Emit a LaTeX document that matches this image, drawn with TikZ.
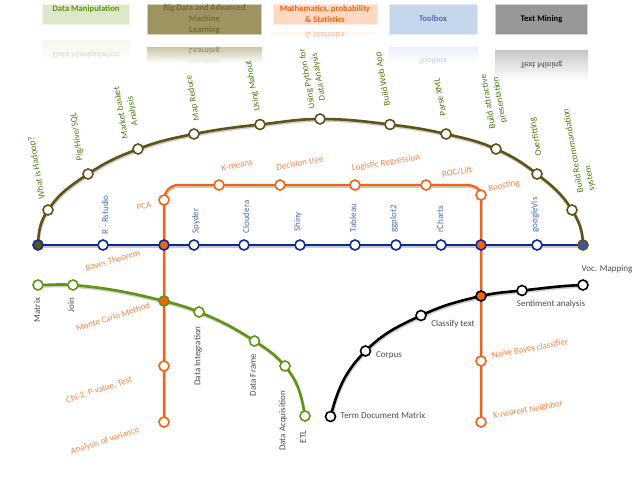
\documentclass[tikz,border=0pt]{standalone}
\usepackage{fontspec}
\setmainfont{Carlito}
\usetikzlibrary{backgrounds}
\definecolor{brownline}{HTML}{5F5216}
\definecolor{blueline}{HTML}{0A2A96}
\definecolor{orangeline}{HTML}{F36412}
\definecolor{greenline}{HTML}{5F9410}
\definecolor{oliveText}{HTML}{4F7A14}
\definecolor{blueText}{HTML}{4A6FB0}
\definecolor{orangeText}{HTML}{F58548}
\definecolor{greyText}{HTML}{4A4A4A}
\definecolor{hgreen}{HTML}{DDE8CB}
\definecolor{hbrown}{HTML}{9E9462}
\definecolor{horange}{HTML}{FDD8C2}
\definecolor{hblue}{HTML}{C6D6EC}
\definecolor{hgrey}{HTML}{989898}
\tikzset{
 every node/.style={inner sep=0pt,outer sep=0pt},
 stn/.style={circle,minimum size=10pt,line width=1.6pt,fill=white,draw=#1},
 junction/.style 2 args={circle,minimum size=10pt,line width=1.6pt,fill=#2,draw=#1},
 lab/.style={font=\fontsize{9}{11.5}\selectfont,align=center},
 olab/.style={lab,text=oliveText,rotate=100},
 blab/.style={lab,text=blueText,rotate=90},
 rlab/.style={lab,text=orangeText},
 glab/.style={lab,text=greyText,rotate=90},
 klab/.style={lab,text=greyText},
 headtxt/.style={font=\bfseries\fontsize{8.6}{11}\selectfont,align=center},
 shadowln/.style={draw=black!45,opacity=.45,line width=2.6pt,transform canvas={shift={(0.6pt,-1.5pt)}}},
 brownln/.style={draw=brownline,line width=2.6pt},
 blueln/.style={draw=blueline,line width=2pt},
 orangeln/.style={draw=orangeline,line width=2.2pt},
 greenln/.style={draw=greenline,line width=2.6pt},
 blackln/.style={draw=black,line width=2.6pt},
 hbox/.style={draw=#1!45!white,line width=1pt,fill=#1},
}
\newcommand\pathBrown{(bs.center)
 to[out=88,in=236] (b1.center) to[out=56,in=214] (b2.center)
 to[out=34,in=201] (b3.center) to[out=21,in=191] (b4.center)
 to[out=11,in=186] (b5.center) to[out=6,in=180] (b6.center)
 to[out=0,in=173] (b7.center) to[out=-7,in=167] (b8.center)
 to[out=-13,in=156] (b9.center) to[out=-24,in=142] (b10.center)
 to[out=-38,in=122] (b11.center) to[out=-58,in=92] (be.center)}
\newcommand\pathGreen{(g1.center)
 to[out=0,in=175] (g2.center) to[out=-5,in=166] (xg.center)
 to[out=-14,in=158] (g3.center) to[out=-22,in=147] (g4.center)
 to[out=-33,in=130] (g5.center) to[out=-50,in=100] (g6.center)}
\newcommand\pathBlack{(k1.center)
 to[out=75,in=225] (k2.center) to[out=45,in=205] (k3.center)
 to[out=25,in=193] (xk.center) to[out=13,in=186] (k4.center)
 to[out=6,in=182] (k5.center)}
\newcommand\pathOrange{(ol2.center) -- (pca.center) to[out=90,in=180] (cl) -- (cr) to[out=0,in=90] (boost.center) -- (or2.center)}
\begin{document}
\begin{tikzpicture}[x=1pt,y=-1pt]
\useasboundingbox (0,0) rectangle (640,480);
\begin{scope}[on background layer]
\fill[white] (0,0) rectangle (640,480);
\end{scope}

% header boxes
\node[hbox=hgreen,minimum width=87pt,minimum height=20pt] (h1) at (86,14) {};
\node[headtxt,text=greenline] (h1t) at (86,9) {Data Manipulation};
\node[hbox=hbrown,minimum width=114pt,minimum height=30pt] (h2) at (204.5,19) {};
\node[headtxt,text=brownline!85!white] (h2t) at (204.5,19) {Big Data and Advanced\\Machine\\Learning};
\node[hbox=horange,minimum width=104pt,minimum height=20pt] (h3) at (325,14) {};
\node[headtxt,text=orangeline] (h3t) at (325,14) {Mathematics, probability\\\& Statistics};
\node[hbox=hblue,minimum width=88pt,minimum height=30pt] (h4) at (433,19) {};
\node[headtxt,text=blueline!70!white] (h4t) at (433,19) {Toolbox};
\node[hbox=hgrey,minimum width=92pt,minimum height=30pt] (h5) at (541.5,19) {};
\node[headtxt,text=black] (h5t) at (541.5,19) {Text Mining};

% reflections
\shade[top color=hgreen!35!white,bottom color=white] (42,40) rectangle (130,60);
\shade[top color=hbrown!55!white,bottom color=white] (147,47) rectangle (262,63);
\shade[top color=horange!25!white,bottom color=white] (273,32) rectangle (377,37);
\shade[top color=hblue!40!white,bottom color=white] (389,47) rectangle (478,63);
\shade[top color=hgrey!55!white,bottom color=white] (495,50) rectangle (588,80);
\node[headtxt,text=greenline!22!white] (r1) at (86,55) {\scalebox{1}[-1]{Data Manipulation}};
\node[headtxt,text=brownline!60!white] (r2a) at (204.5,51) {\scalebox{1}[-1]{Learning}};
\node[headtxt,text=brownline!12!white] (r2b) at (204.5,61.5) {\scalebox{1}[-1]{Machine}};
\begin{scope}
\clip (273,32) rectangle (377,37);
\node[headtxt,text=orangeline!35!white] (r3) at (325,35) {\scalebox{1}[-1]{\& Statistics}};
\end{scope}
\node[headtxt,text=blueline!18!white] (r4) at (433,61.5) {\scalebox{1}[-1]{Toolbox}};
\node[headtxt,text=black!55!white] (r5) at (541.5,64.5) {\scalebox{1}[-1]{Text Mining}};

% brown line stations
\node[junction={blueline}{brownline}] (bs) at (38,245) {};
\node[stn=brownline] (b1) at (48,210) {};
\node[stn=brownline] (b2) at (88,174) {};
\node[stn=brownline] (b3) at (138,149) {};
\node[stn=brownline] (b4) at (194,134) {};
\node[stn=brownline] (b5) at (260,124.5) {};
\node[stn=brownline] (b6) at (320,119) {};
\node[stn=brownline] (b7) at (390,124.5) {};
\node[stn=brownline] (b8) at (446,134) {};
\node[stn=brownline] (b9) at (496,149) {};
\node[stn=brownline] (b10) at (537,174) {};
\node[stn=brownline] (b11) at (572,210) {};
\node[junction={brownline}{blueline!80!white}] (be) at (583,245) {};

% blue line stations
\node[stn=blueline] (u1) at (103,245) {};
\node[junction={blueline}{orangeline}] (xl) at (164,245) {};
\node[stn=blueline] (u2) at (194,245) {};
\node[stn=blueline] (u3) at (244,245) {};
\node[stn=blueline] (u4) at (300,245) {};
\node[stn=blueline] (u5) at (355,245) {};
\node[stn=blueline] (u6) at (396,245) {};
\node[stn=blueline] (u7) at (441,245) {};
\node[junction={blueline}{orangeline}] (xr) at (481,245) {};
\node[stn=blueline] (u8) at (537,245) {};

% orange stations
\coordinate (cl) at (178,185);
\coordinate (cr) at (467,185);
\node[stn=orangeline] (pca) at (164,200) {};
\node[stn=orangeline] (o1) at (219,185) {};
\node[stn=orangeline] (o2) at (280,185) {};
\node[stn=orangeline] (o3) at (355,185) {};
\node[stn=orangeline] (o4) at (426,185) {};
\node[stn=orangeline] (boost) at (481,195) {};
\node[stn=orangeline] (ol1) at (164,366) {};
\node[stn=orangeline] (ol2) at (164,422) {};
\node[stn=orangeline] (or1) at (481,361) {};
\node[stn=orangeline] (or2) at (481,422) {};

% green stations
\node[stn=greenline] (g1) at (38,285) {};
\node[stn=greenline] (g2) at (73,285) {};
\node[junction={greenline}{orangeline}] (xg) at (164,301) {};
\node[stn=greenline] (g3) at (199,312) {};
\node[stn=greenline] (g4) at (254.5,341) {};
\node[stn=greenline] (g5) at (285,366) {};
\node[stn=greenline] (g6) at (305,416) {};

% black stations
\node[stn=black] (k1) at (330.5,416.5) {};
\node[stn=black] (k2) at (365.5,351) {};
\node[stn=black] (k3) at (421,315.5) {};
\node[junction={black}{orangeline}] (xk) at (481,296) {};
\node[stn=black] (k4) at (522,290.5) {};
\node[stn=black] (k5) at (583,285) {};

% connectors
\begin{scope}[on background layer]
\draw[shadowln] \pathBrown;
\draw[shadowln] (bs.center) -- (be.center);
\draw[shadowln] \pathOrange;
\draw[shadowln] \pathGreen;
\draw[shadowln] \pathBlack;
\draw[orangeln] \pathOrange;
\draw[brownln] \pathBrown;
\draw[blueln] (bs.center) -- (be.center);
\draw[greenln] \pathGreen;
\draw[blackln] \pathBlack;
\end{scope}

% brown labels
\node[olab] (tb1) at (37,168) {What is Hadoop?};
\node[olab,rotate=-2] (tb2) at (77,137) {Pig/Hive/SQL};
\node[olab] (tb3) at (127,112) {Market basket\\Analysis};
\node[olab] (tb4) at (193,98) {Map Reduce};
\node[olab] (tb5) at (253,86) {Using Mahout};
\node[olab] (tb6) at (313,78) {Using Python for\\Data Analysis};
\node[olab] (tb7) at (383,79) {Build Web App};
\node[olab] (tb8) at (440,97) {Parse XML};
\node[olab] (tb9) at (494,101) {Build attractive\\presentation};
\node[olab] (tb10) at (536,137) {Overfitting};
\node[olab,align=left,anchor=south west] (tb11) at (596,190) {Build Recommandation\\system};

% blue labels
\node[blab] (tu1) at (105,215) {R - Rstudio};
\node[blab] (tu2) at (196,221) {Spyder};
\node[blab] (tu3) at (246,217) {Cloudera};
\node[blab] (tu4) at (298,222) {Shiny};
\node[blab] (tu5) at (353,218) {Tableau};
\node[blab] (tu6) at (394,219) {ggplot2};
\node[blab] (tu7) at (440,219) {rCharts};
\node[blab] (tu8) at (535,215) {googleVis};

% orange labels
\node[rlab,rotate=12] (to1) at (237,165) {K-means};
\node[rlab,rotate=10] (to2) at (300,163) {Decision tree};
\node[rlab,rotate=9] (to3) at (386,163) {Logistic Regression};
\node[rlab,rotate=10] (to4) at (457,172) {ROC/Lift};
\node[rlab,rotate=11] (to5) at (504,186) {Boosting};
\node[rlab,rotate=12] (to6) at (144,206) {PCA};
\node[rlab,rotate=16] (to7) at (113,261) {Bayes Theorem};
\node[rlab,rotate=18] (to8) at (113,317) {Monte Carlo Method};
\node[rlab,rotate=18] (to9) at (99,390) {Chi-2, P-value, Test};
\node[rlab,rotate=18] (to10) at (105,441) {Analysis of variance};
\node[rlab,rotate=10] (to11) at (530,349) {Naive Bayes classifier};
\node[rlab,rotate=10] (to12) at (528,410) {K-nearest Neighbor};

% green labels
\node[glab] (tg1) at (37,310) {Matrix};
\node[glab] (tg2) at (71,305) {Join};
\node[glab] (tg3) at (198,356) {Data Integration};
\node[glab] (tg4) at (253,375) {Data Frame};
\node[glab] (tg5) at (283,421) {Data Acquisition};
\node[glab] (tg6) at (303,437) {ETL};

% black labels
\node[klab] (tk1) at (383,415) {Term Document Matrix};
\node[klab] (tk2) at (389,355) {Corpus};
\node[klab] (tk3) at (453,324) {Classify text};
\node[klab] (tk4) at (551,304) {Sentiment analysis};
\node[klab] (tk5) at (607,269) {Voc. Mapping};
\end{tikzpicture}
\end{document}
